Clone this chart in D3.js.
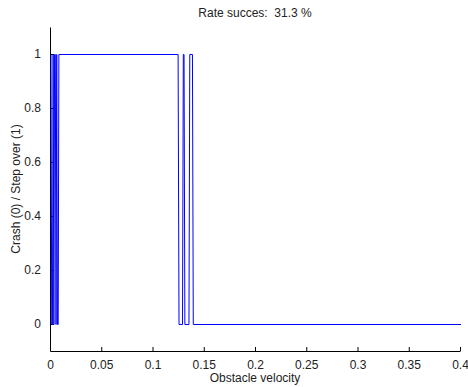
<!DOCTYPE html>
<html>
<head>
<meta charset="utf-8">
<script src="https://cdn.jsdelivr.net/npm/d3@7"></script>
<style>
  body { margin: 0; background: #fff; }
  text { font-family: "Liberation Sans", Arial, sans-serif; fill: #222; }
</style>
</head>
<body>
<div id="chart"></div>
<script>
// samples of obstacle velocity vs outcome (0 = crash, 1 = step over)
var velocity = [
    0, 0.0007, 0.0014, 0.0021, 0.0028, 0.0035, 0.0042, 0.0049, 0.0056, 0.0063, 0.0070, 0.0077,
    0.1240, 0.1249, 0.1283, 0.1291, 0.1298, 0.1306, 0.1346, 0.1354, 0.1380, 0.1388,
    0.4
];
var outcome = [
    1, 0, 0, 1, 0, 1, 1, 0, 1, 0, 0, 1,
    1, 0, 0, 1, 1, 0, 0, 1, 1, 0,
    0
];
var xTicks = [0, 0.05, 0.1, 0.15, 0.2, 0.25, 0.3, 0.35, 0.4];
var yTicks = [0, 0.2, 0.4, 0.6, 0.8, 1];
var titleText = "Rate succes:  31.3 %";
var xLabel = "Obstacle velocity";
var yLabel = "Crash (0) / Step over (1)";

var margin = { top: 27, right: 8, bottom: 36, left: 50 };
var width = 468 - margin.left - margin.right;
var height = 387 - margin.top - margin.bottom;

var svg = d3.select("#chart")
    .append("svg")
    .attr("width", 468)
    .attr("height", 387)
    .append("g")
    .attr("transform", "translate(" + margin.left + "," + margin.top + ")");

var x = d3.scaleLinear().domain([0, 0.4]).range([0, width]);
var y = d3.scaleLinear().domain([-0.1, 1.1]).range([height, 0]);

// MATLAB style: ticks point inward, no box
var xAxis = svg.append("g")
    .attr("transform", "translate(0," + height + ")")
    .call(d3.axisBottom(x).tickValues(xTicks).tickSize(-4).tickPadding(9)
        .tickFormat(d3.format("")));
var yAxis = svg.append("g")
    .call(d3.axisLeft(y).tickValues(yTicks).tickSize(-4).tickPadding(9)
        .tickFormat(d3.format("")));

[xAxis, yAxis].forEach(function(a) {
    a.select(".domain").attr("stroke", "#000");
    a.selectAll("text").style("font-size", "12px").attr("fill", "#222");
    a.selectAll(".tick line").attr("stroke", "#000");
});
xAxis.select(".domain").attr("d", "M0.5,0.5H" + (width + 0.5));
yAxis.select(".domain").attr("d", "M0.5,0.5V" + (height + 0.5));

var points = velocity.map(function(v, i) { return [v, outcome[i]]; });

svg.append("path")
    .datum(points)
    .attr("fill", "none")
    .attr("stroke", "#0000ff")
    .attr("stroke-width", 1)
    .attr("d", d3.line()
        .x(function(d) { return x(d[0]) + 1; })
        .y(function(d) { return Math.round(y(d[1])) + 0.5; }));

svg.append("text")
    .attr("x", width / 2)
    .attr("y", -10)
    .attr("text-anchor", "middle")
    .style("font-size", "12px")
    .style("white-space", "pre")
    .text(titleText);

svg.append("text")
    .attr("x", width / 2)
    .attr("y", height + 31)
    .attr("text-anchor", "middle")
    .style("font-size", "12px")
    .text(xLabel);

svg.append("text")
    .attr("transform", "translate(-30," + y(0.5) + ") rotate(-90)")
    .attr("text-anchor", "middle")
    .style("font-size", "12px")
    .text(yLabel);
</script>
</body>
</html>
